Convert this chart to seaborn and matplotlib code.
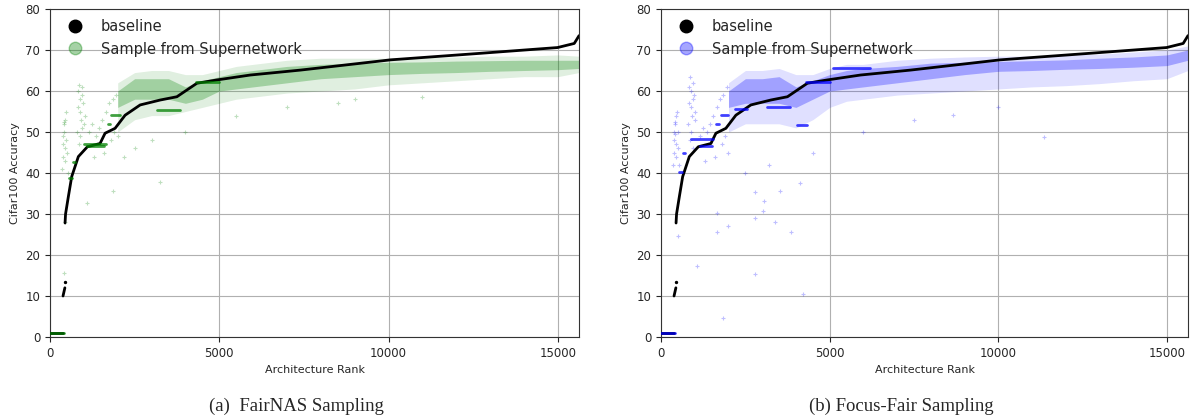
import pandas as pd
import matplotlib
matplotlib.use("Agg")
import matplotlib.pyplot as plt
from matplotlib.lines import Line2D
import seaborn as sns

sns.set_style("ticks")
plt.rcParams['font.family'] = ['DejaVu Sans']

# baseline (sorted true accuracy); seg splits the gaps
base_rank = [0, 380, 385, 440, 445, 460, 542, 641, 838, 1105, 1479, 1627, 1923, 2219,
             2663, 3254, 3748, 4340, 4931, 5917, 7396, 10059, 12722, 14990, 15483, 15625]
base_acc = [1, 1, 10, 12, 27.8, 30, 34.2, 39.1, 44, 46.4, 47.2, 49.7, 50.9, 54.1,
            56.6, 57.8, 58.6, 61.9, 62.7, 63.9, 65.1, 67.6, 69.2, 70.6, 71.6, 73.5]
base_seg = [0, 0, 1, 1] + [2] * 22

# dense cloud of samples: outer and inner envelopes per rank
band_rank = [2000, 2500, 3000, 3500, 4000, 4500, 5000, 5500, 6000, 7000, 8000,
             9000, 10000, 11000, 12000, 13000, 14000, 15000, 15625]

fair_lo = [50, 53, 54, 54, 55, 56, 57, 58, 58.5, 59.5, 60, 60.5, 61.5, 62, 62.5, 63, 63.5, 63.5, 64.5]
fair_hi = [62, 64.5, 65, 65, 64, 64, 65, 66, 66.5, 67.5, 68, 68, 68, 68.2, 68.3, 68.5, 68.5, 68.8, 68.5]
fair_core_lo = [56, 58, 58, 58, 57, 58, 60, 60.5, 61, 62, 63, 63.5, 64, 64.3, 64.5, 64.8, 65, 65.2, 65.5]
fair_core_hi = [60, 63, 63, 63, 61, 62.5, 63.5, 64.5, 65, 66, 66.5, 66.8, 67, 67.1, 67.3, 67.4, 67.5, 67.5, 67.5]

focus_lo = [50, 52, 52, 52, 51, 53, 56, 57.5, 58, 59, 59.5, 60, 60.5, 61, 61.3, 61.8, 62.5, 63, 65]
focus_hi = [62, 65, 65, 65.5, 64, 64, 65.5, 66.5, 66.5, 67.5, 68, 68.3, 68.5, 68.5, 68.8, 69, 69.5, 70, 71]
focus_core_lo = [56, 57, 57, 57, 56, 58, 60, 60.5, 61, 62, 63, 64, 64.8, 65, 65.3, 65.5, 65.8, 66.2, 67.5]
focus_core_hi = [60, 63, 63, 63.5, 61, 62.5, 64, 65, 65.5, 66, 66.8, 67, 67.2, 67.4, 67.6, 68, 68.3, 68.8, 70]

# horizontal clusters of samples: start rank, end rank, accuracy
fair_clusters = [(0, 400, 1.0), (560, 640, 38.7), (680, 740, 42.8), (1000, 1650, 47.0),
                 (1100, 1600, 46.5), (1700, 1760, 52.0), (1800, 2080, 54.1),
                 (3150, 3850, 55.4), (4300, 5000, 62.2)]
focus_clusters = [(0, 400, 1.0), (540, 620, 40.2), (660, 720, 44.8), (900, 1550, 48.3),
                  (1150, 1500, 46.7), (1640, 1720, 51.9), (1780, 1990, 54.1),
                  (2200, 2550, 55.7), (3150, 3820, 56.2), (4020, 4320, 51.7),
                  (5100, 6200, 65.5), (4300, 5000, 62.3)]

# sparse samples (rank, accuracy)
fair_pts = [(360, 41), (370, 44), (380, 47), (390, 49), (400, 52), (410, 52.5), (420, 50),
            (430, 46), (440, 43), (450, 53), (470, 55), (480, 48), (500, 45), (520, 40),
            (800, 50), (820, 56), (840, 60), (860, 61.5), (880, 58), (900, 55), (920, 53),
            (940, 59), (960, 61), (980, 57), (1000, 52), (1020, 54), (850, 47), (900, 49),
            (950, 51), (1150, 50), (1250, 52), (1350, 49), (1450, 51), (1550, 53), (1650, 55),
            (1750, 57), (1850, 58), (1950, 59), (1300, 44), (1600, 45), (1800, 48), (1900, 50),
            (2000, 49), (1085, 32.8), (1874, 35.7), (3235, 37.9), (424, 15.5), (430, 28.1),
            (2500, 46), (3000, 48), (2200, 44), (4000, 50), (5500, 54), (7000, 56), (8500, 57),
            (11000, 58.5), (9000, 58)]
focus_pts = [(360, 42), (370, 45), (380, 48), (390, 50), (400, 52.5), (410, 52), (420, 49.5),
             (430, 47), (440, 44), (450, 54), (470, 55), (490, 50), (510, 46), (530, 42),
             (800, 52), (820, 57), (840, 61), (860, 63.5), (880, 60), (900, 56), (920, 54),
             (940, 58), (960, 62), (980, 59), (1000, 53), (1020, 55), (850, 48), (900, 50),
             (950, 46), (1150, 49), (1250, 51), (1350, 50), (1450, 52), (1550, 54), (1650, 56),
             (1750, 58), (1850, 59), (1950, 61), (1300, 43), (1600, 44), (1800, 47), (1900, 49),
             (2000, 45), (1648, 30.2), (2781, 35.4), (2781, 15.3), (1843, 4.6), (1074, 17.3),
             (3027, 30.8), (3373, 28.1), (3866, 25.7), (4210, 10.4), (4112, 37.6), (3541, 35.6),
             (1648, 25.7), (1991, 27.1), (3067, 33.2), (513, 24.6), (2781, 29), (11361, 48.9),
             (8648, 54.1), (2500, 40), (3200, 42), (4500, 45), (6000, 50), (7500, 53), (10000, 56)]

baseline = pd.DataFrame({'rank': base_rank, 'acc': base_acc, 'seg': base_seg})


def draw_panel(ax, color, lo, hi, core_lo, core_hi, clusters, pts, caption, cx):
    ax.fill_between(band_rank, lo, hi, color=color, alpha=0.12, lw=0, zorder=1)
    ax.fill_between(band_rank, core_lo, core_hi, color=color, alpha=0.28, lw=0, zorder=1)

    p = pd.DataFrame(pts, columns=['rank', 'acc'])
    sns.scatterplot(data=p, x='rank', y='acc', ax=ax, color=color, alpha=0.25,
                    s=6, marker='+', linewidth=0.8, zorder=2)

    rows = []
    for i, (a, b, y) in enumerate(clusters):
        rows += [(a, y, i), (b, y, i)]
    c = pd.DataFrame(rows, columns=['rank', 'acc', 'seg'])
    sns.lineplot(data=c, x='rank', y='acc', units='seg', estimator=None, ax=ax,
                 color=color, lw=2, alpha=0.75, zorder=4)

    sns.lineplot(data=baseline, x='rank', y='acc', units='seg', estimator=None, ax=ax,
                 color='black', lw=2, zorder=3)
    ax.scatter([430], [13.5], color='black', s=2, zorder=3)

    ax.set_xlim(0, 15625)
    ax.set_ylim(0, 80)
    ax.set_xticks([0, 5000, 10000, 15000])
    ax.set_yticks(range(0, 81, 10))
    ax.grid(True, color='#b0b0b0', lw=0.8)
    ax.tick_params(labelsize=8.5, length=3.5)
    ax.set_xlabel('Architecture Rank', fontsize=8)
    ax.set_ylabel('Cifar100 Accuracy', fontsize=8)
    for s in ax.spines.values():
        s.set_color('#333333')

    handles = [Line2D([], [], marker='o', ls='', color='black', markersize=9),
               Line2D([], [], marker='o', ls='', color=color, alpha=0.35, markersize=9)]
    ax.legend(handles, ['baseline', 'Sample from Supernetwork'], loc='upper left',
              frameon=False, fontsize=10.5, handletextpad=0.8, borderaxespad=0.3,
              labelspacing=0.5)
    fig.text(cx, 0.031, caption, ha='center', va='center', fontsize=13.5,
             family=['Liberation Serif'])


fig = plt.figure(figsize=(11.9, 4.19), dpi=100)
ax1 = fig.add_axes([0.042, 0.1957, 0.4446, 0.7828])
ax2 = fig.add_axes([0.5555, 0.1957, 0.4428, 0.7828])

draw_panel(ax1, 'green', fair_lo, fair_hi, fair_core_lo, fair_core_hi,
           fair_clusters, fair_pts, '(a)  FairNAS Sampling', 0.249)
draw_panel(ax2, 'blue', focus_lo, focus_hi, focus_core_lo, focus_core_hi,
           focus_clusters, focus_pts, '(b) Focus-Fair Sampling', 0.757)

plt.savefig('out.png', dpi=100)
